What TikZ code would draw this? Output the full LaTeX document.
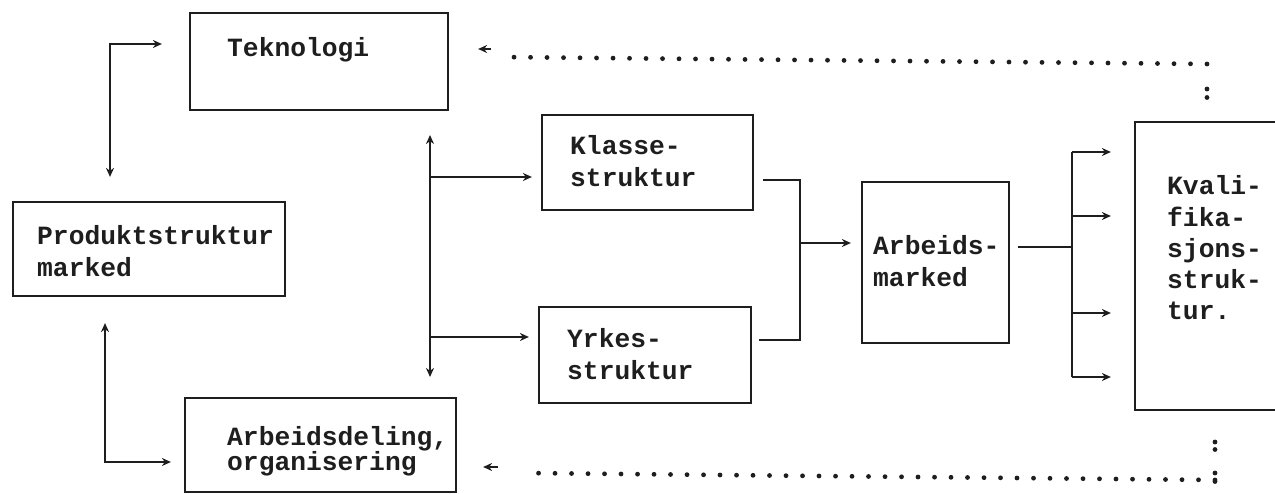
\documentclass[tikz,border=0pt]{standalone}
\usepackage{fontspec}
\setmonofont{Liberation Mono}
\usetikzlibrary{arrows.meta}
\definecolor{ink}{HTML}{1E1E1E}
\begin{document}
\begin{tikzpicture}[x=1pt,y=-1pt,
  >={Stealth[length=9pt,width=8pt]},
  box/.style={draw=ink,line width=2.2pt,inner sep=0pt,rectangle},
  lbl/.style={anchor=base west,inner sep=0pt,text=ink,font=\ttfamily\bfseries\fontsize{26.3}{30}\selectfont},
  conn/.style={draw=ink,line width=1.8pt},
  dotline/.style={draw=ink,line width=4.8pt,line cap=round,dash pattern=on 0pt off 16.5pt}]
\useasboundingbox (0,0) rectangle (1275,494);
% boxes
\node[box,minimum width=258pt,minimum height=97pt] (tek) at (319,61.5) {};
\node[box,minimum width=272pt,minimum height=94pt] (prod) at (149,249) {};
\node[box,minimum width=271pt,minimum height=94pt] (adel) at (320.5,445) {};
\node[box,minimum width=211pt,minimum height=95pt] (kla) at (647.5,162.5) {};
\node[box,minimum width=212pt,minimum height=96pt] (yrk) at (645,355) {};
\node[box,minimum width=147pt,minimum height=161pt] (amk) at (935.5,262.5) {};
\node[box,minimum width=180pt,minimum height=288pt] (kval) at (1225,266) {};
% labels
\node[lbl] (t1) at (227,57) {Teknologi};
\node[lbl] (t2) at (37,245) {Produktstruktur};
\node[lbl] (t3) at (37,277) {marked};
\node[lbl] (t4) at (227,445) {Arbeidsdeling,};
\node[lbl] (t5) at (227,470) {organisering};
\node[lbl] (t6) at (570,155) {Klasse-};
\node[lbl] (t7) at (570,187) {struktur};
\node[lbl] (t8) at (567,348) {Yrkes-};
\node[lbl] (t9) at (567,380) {struktur};
\node[lbl] (t10) at (873,255) {Arbeids-};
\node[lbl] (t11) at (873,287) {marked};
\node[lbl] (t12) at (1167,195) {Kvali-};
\node[lbl] (t13) at (1167,227) {fika-};
\node[lbl] (t14) at (1167,258) {sjons-};
\node[lbl] (t15) at (1167,289) {struk-};
\node[lbl] (t16) at (1167,320) {tur.};
% connector end points
\coordinate (c1a) at ([xshift=-27pt]tek.west |- 0,44);
\coordinate (c1b) at ([yshift=24pt]prod.north -| 110,0);
\coordinate (c2a) at ([yshift=-26pt]prod.south -| 105,0);
\coordinate (c2b) at ([xshift=-13pt]adel.west |- 0,462);
\coordinate (v1) at (430,135);
\coordinate (v2) at (430,377);
\coordinate (bk) at (430,177);
\coordinate (by) at (430,337);
\coordinate (kl) at ([xshift=-9pt]kla.west |- bk);
\coordinate (yr) at ([xshift=-9pt]yrk.west |- by);
\coordinate (ko) at ([xshift=9pt]kla.east |- 0,180);
\coordinate (yo) at ([xshift=7pt]yrk.east |- 0,340);
\coordinate (m1) at (800,243);
\coordinate (ai) at ([xshift=-10pt]amk.west |- m1);
\coordinate (ao) at ([xshift=8pt]amk.east |- 0,247);
\coordinate (s0) at (1072,247);
\coordinate (s1) at (1072,152);
\coordinate (s4) at (1072,377);
\coordinate (e1) at ([xshift=-23pt]kval.west |- s1);
\coordinate (e2) at ([xshift=-23pt]kval.west |- 0,216);
\coordinate (e3) at ([xshift=-23pt]kval.west |- 0,313);
\coordinate (e4) at ([xshift=-23pt]kval.west |- s4);
% connectors
\draw[conn,<->] (c1a) -| (c1b);
\draw[conn,<->] (c2a) |- (c2b);
\draw[conn,<->] (v1) -- (v2);
\draw[conn,->] (bk) -- (kl);
\draw[conn,->] (by) -- (yr);
\draw[conn] (ko) -| (m1) |- (yo);
\draw[conn,->] (m1) -- (ai);
\draw[conn] (ao) -- (s0);
\draw[conn] (s1) -- (s4);
\draw[conn,->] (s1) -- (e1);
\draw[conn,->] (s0 |- e2) -- (e2);
\draw[conn,->] (s0 |- e3) -- (e3);
\draw[conn,->] (s4) -- (e4);
% dotted feedback lines
\coordinate (d1) at (1207,64);
\coordinate (d2) at ([xshift=49pt]tek.east |- 0,57);
\coordinate (d3) at ([xshift=42pt]tek.east |- 0,49);
\coordinate (d4) at ([xshift=29pt]tek.east |- 0,49);
\draw[dotline] (d1) -- (d2);
\draw[conn,->] (d3) -- (d4);
\draw[dotline,dash pattern=on 0pt off 8.5pt] (1207,89) -- (1207,98);
\coordinate (f1) at (1215,480);
\coordinate (f2) at ([xshift=67pt]adel.east |- 0,473);
\coordinate (f3) at ([xshift=41pt]adel.east |- 0,467);
\coordinate (f4) at ([xshift=26pt]adel.east |- 0,467);
\draw[dotline] (f1) -- (f2);
\draw[conn,->] (f3) -- (f4);
\draw[dotline,dash pattern=on 0pt off 7.5pt] (1215,442) -- (1215,450);
\draw[dotline,dash pattern=on 0pt off 8.5pt] (1215,473) -- (1215,482);
\end{tikzpicture}
\end{document}
